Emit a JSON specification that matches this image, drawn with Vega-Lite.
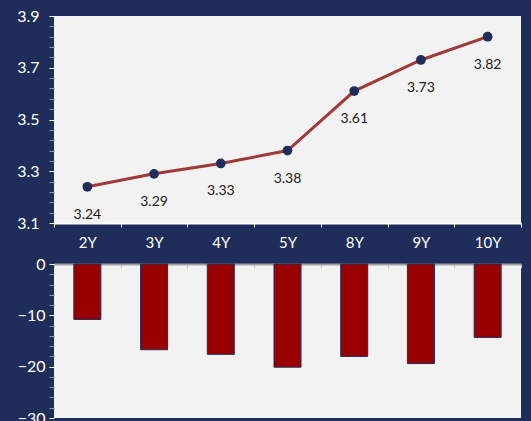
{
  "$schema": "https://vega.github.io/schema/vega-lite/v6.json",
  "background": "#1F2D5A",
  "padding": {"left": 16, "top": 8, "right": 10, "bottom": 0},
  "spacing": 6,
  "config": {
    "view": {"stroke": null},
    "axis": {"labelFont": "Lato", "titleFont": "Lato", "grid": false}
  },
  "datasets": {
    "curve": [
      {"tenor": "2Y", "yield": 3.24},
      {"tenor": "3Y", "yield": 3.29},
      {"tenor": "4Y", "yield": 3.33},
      {"tenor": "5Y", "yield": 3.38},
      {"tenor": "8Y", "yield": 3.61},
      {"tenor": "9Y", "yield": 3.73},
      {"tenor": "10Y", "yield": 3.82}
    ],
    "chg": [
      {"tenor": "2Y", "change": -10.8},
      {"tenor": "3Y", "change": -16.7},
      {"tenor": "4Y", "change": -17.6},
      {"tenor": "5Y", "change": -20.1},
      {"tenor": "8Y", "change": -18.0},
      {"tenor": "9Y", "change": -19.4},
      {"tenor": "10Y", "change": -14.3}
    ]
  },
  "vconcat": [
    {
      "width": 467,
      "height": 207,
      "data": {"name": "curve"},
      "view": {"fill": "#F2F2F2", "stroke": null},
      "encoding": {
        "x": {
          "field": "tenor", "type": "nominal", "sort": null,
          "scale": {"type": "band", "paddingInner": 0, "paddingOuter": 0},
          "axis": {
            "title": null, "labelAngle": 0, "labelColor": "white", "labelFontSize": 15,
            "labelPadding": 8, "domainColor": "white", "domainWidth": 2,
            "tickColor": "white", "tickSize": 4, "tickBand": "extent"
          }
        },
        "y": {
          "field": "yield", "type": "quantitative",
          "scale": {"domain": [3.1, 3.9], "nice": false, "zero": false},
          "axis": {
            "title": null,
            "values": [3.1, 3.14, 3.18, 3.22, 3.26, 3.3, 3.34, 3.38, 3.42, 3.46, 3.5, 3.54, 3.58, 3.62, 3.66, 3.7, 3.74, 3.78, 3.82, 3.86, 3.9],
            "labelExpr": "abs((datum.value-3.1)*5 - round((datum.value-3.1)*5)) < 0.01 ? format(datum.value, '.1f') : ''",
            "labelColor": "white", "labelFontSize": 16, "labelPadding": 10,
            "domain": false, "tickSize": 5,
            "tickColor": {"condition": {"test": "abs((datum.value-3.1)*5 - round((datum.value-3.1)*5)) < 0.01", "value": "white"}, "value": "#8A93AD"}
          }
        }
      },
      "layer": [
        {"mark": {"type": "line", "color": "#A03A3A", "strokeWidth": 3}},
        {"mark": {"type": "point", "filled": true, "color": "#1F2D5A", "size": 95, "opacity": 1}},
        {
          "mark": {"type": "text", "dy": 28, "fontSize": 14, "color": "#1A1A1A", "font": "Lato"},
          "encoding": {"text": {"field": "yield", "type": "quantitative", "format": ".2f"}}
        }
      ]
    },
    {
      "width": 467,
      "height": 154,
      "data": {"name": "chg"},
      "view": {"fill": "#F2F2F2", "stroke": null},
      "mark": {"type": "bar", "color": "#990000", "stroke": "#1F2D5A", "strokeWidth": 1, "width": 27},
      "encoding": {
        "x": {
          "field": "tenor", "type": "nominal", "sort": null,
          "scale": {"type": "band", "paddingInner": 0, "paddingOuter": 0},
          "axis": {
            "title": null, "orient": "top", "labels": false,
            "domainColor": "#A0A0A0", "domainWidth": 2,
            "tickColor": "#C8C8C8", "tickSize": -4, "tickBand": "extent"
          }
        },
        "y": {
          "field": "change", "type": "quantitative",
          "scale": {"domain": [-30, 0], "nice": false},
          "axis": {
            "title": null,
            "values": [0, -2, -4, -6, -8, -10, -12, -14, -16, -18, -20, -22, -24, -26, -28, -30],
            "labelExpr": "datum.value % 10 == 0 ? format(datum.value, 'd') : ''",
            "labelColor": "white", "labelFontSize": 16, "labelPadding": 4,
            "domain": false, "tickSize": 5,
            "tickColor": {"condition": {"test": "datum.value % 10 == 0", "value": "white"}, "value": "#8A93AD"}
          }
        }
      }
    }
  ]
}
